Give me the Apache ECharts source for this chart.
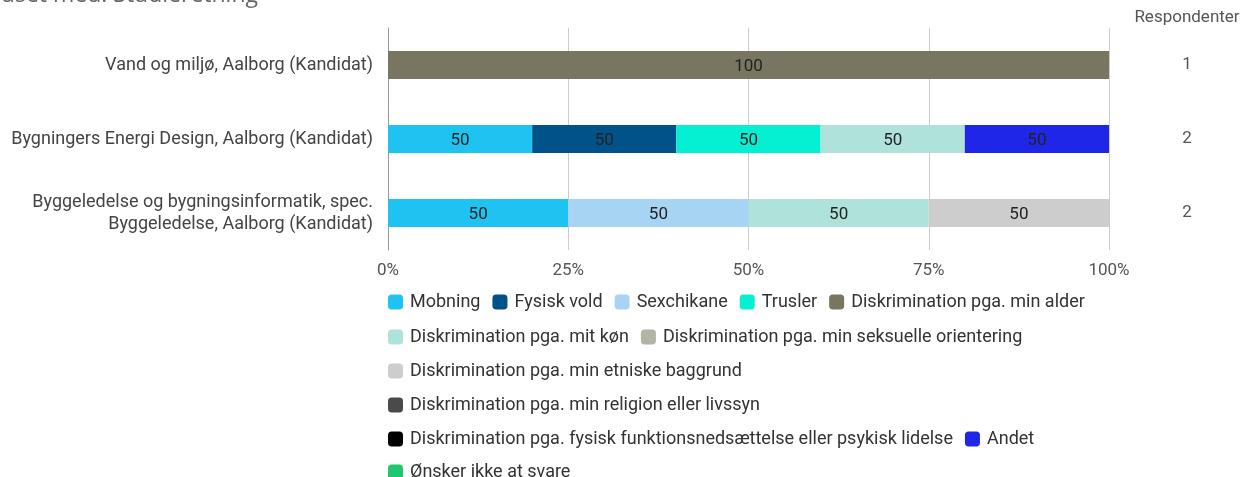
<!DOCTYPE html>
<html>
<head>
<meta charset="utf-8">
<script src="https://cdn.jsdelivr.net/npm/echarts@6/dist/echarts.min.js"></script>
<style>
  html, body { margin: 0; padding: 0; background: #fff; }
  #chart { width: 1244px; height: 477px; }
</style>
</head>
<body>
<div id="chart"></div>
<script>
// Study programmes (top to bottom)
const categories = [
  'Vand og miljø, Aalborg (Kandidat)',
  'Bygningers Energi Design, Aalborg (Kandidat)',
  'Byggeledelse og bygningsinformatik, spec.\nByggeledelse, Aalborg (Kandidat)'
];
const respondents = [1, 2, 2];
const xTicks = [0, 25, 50, 75, 100];

// Answer options, in legend order
const answers = [
  'Mobning', 'Fysisk vold', 'Sexchikane', 'Trusler',
  'Diskrimination pga. min alder', 'Diskrimination pga. mit køn',
  'Diskrimination pga. min seksuelle orientering',
  'Diskrimination pga. min etniske baggrund',
  'Diskrimination pga. min religion eller livssyn',
  'Diskrimination pga. fysisk funktionsnedsættelse eller psykisk lidelse',
  'Andet', 'Ønsker ikke at svare'
];
const colors = [
  '#1fc3f2', '#005288', '#a8d4f4', '#05f0d2',
  '#787560', '#b0e2dc', '#b3b4a4', '#cdcdcd',
  '#4a4a4a', '#000000', '#2026e8', '#1fc86e'
];

// Share of respondents (%) per answer, one array per programme row
const mobning      = [null, 50, 50];
const fysiskVold   = [null, 50, null];
const sexchikane   = [null, null, 50];
const trusler      = [null, 50, null];
const alder        = [100, null, null];
const koen         = [null, 50, 50];
const seksuelle    = [null, null, null];
const etniske      = [null, null, 50];
const religion     = [null, null, null];
const funktion     = [null, null, null];
const andet        = [null, 50, null];
const oenskerIkke  = [null, null, null];

const seriesValues = [mobning, fysiskVold, sexchikane, trusler, alder, koen,
  seksuelle, etniske, religion, funktion, andet, oenskerIkke];

// Legend rows
const legendRows = [
  [0, 1, 2, 3, 4],
  [5, 6],
  [7],
  [8],
  [9, 10],
  [11]
];

// Each row's bar spans the full width: segments are scaled to the row total
const rowTotals = categories.map((_, r) =>
  seriesValues.reduce((s, arr) => s + (arr[r] || 0), 0));

const FONT = 'Roboto, "Noto Sans", sans-serif';

const series = answers.map((name, i) => ({
  name,
  type: 'bar',
  stack: 'total',
  barWidth: 28,
  yAxisIndex: 0,
  itemStyle: { color: colors[i] },
  label: {
    show: true,
    position: 'inside',
    color: '#222',
    fontFamily: FONT,
    fontSize: 17,
    offset: [0, 2],
    formatter: p => p.data.raw
  },
  emphasis: { disabled: true },
  data: seriesValues[i].map((v, r) =>
    v == null ? { value: null, raw: null } : { value: v / rowTotals[r] * 100, raw: v })
}));

const legendTops = [293, 328, 362, 396, 430, 463];
const legends = legendRows.map((row, k) => ({
  left: 383,
  top: legendTops[k],
  orient: 'horizontal',
  icon: 'roundRect',
  itemWidth: 15,
  itemHeight: 15,
  itemGap: 12,
  padding: [0, 5],
  selectedMode: false,
  textStyle: { color: '#333', fontFamily: FONT, fontSize: 18, padding: [0, 0, 0, 2] },
  data: row.map(i => answers[i])
}));

// Axis label lines sit on the bottom of a slightly taller line box
const richLines = text => text.split('\n').map(s => '{t|' + s + '}').join('\n');

const chart = echarts.init(document.getElementById('chart'), null, { renderer: 'canvas' });
chart.setOption({
  animation: false,
  color: colors,
  grid: { left: 388, right: 135, top: 28, bottom: 227, containLabel: false },
  legend: legends,
  xAxis: {
    type: 'value',
    min: xTicks[0],
    max: xTicks[xTicks.length - 1],
    interval: 25,
    axisLine: { show: false },
    axisTick: { show: false },
    splitLine: { show: true, lineStyle: { color: '#cccccc', width: 1 } },
    axisLabel: {
      color: '#555',
      fontFamily: FONT,
      fontSize: 17,
      margin: 12,
      formatter: v => v + '%'
    }
  },
  yAxis: [
    {
      type: 'category',
      inverse: true,
      data: categories,
      axisLine: { show: true, lineStyle: { color: '#999', width: 1 } },
      axisTick: { show: false },
      axisLabel: {
        margin: 15,
        align: 'right',
        formatter: richLines,
        rich: {
          t: {
            color: '#444',
            fontFamily: FONT,
            fontSize: 18,
            lineHeight: 22,
            height: 22,
            verticalAlign: 'bottom',
            align: 'right'
          }
        }
      }
    },
    {
      type: 'category',
      inverse: true,
      position: 'right',
      data: respondents.map(String),
      axisLine: { show: false },
      axisTick: { show: false },
      axisLabel: {
        margin: 78,
        align: 'center',
        formatter: richLines,
        rich: {
          t: {
            color: '#555',
            fontFamily: FONT,
            fontSize: 17,
            lineHeight: 21,
            height: 21,
            verticalAlign: 'bottom'
          }
        }
      }
    }
  ],
  graphic: [
    {
      type: 'text',
      x: 1187,
      y: 18,
      style: {
        text: 'Respondenter',
        fill: '#555',
        font: '17px ' + FONT,
        align: 'center',
        verticalAlign: 'middle'
      }
    },
    {
      type: 'text',
      x: 258,
      y: 7,
      style: {
        text: 'Krydset med: Studieretning',
        fill: '#666',
        font: '23px "Open Sans", sans-serif',
        align: 'right',
        verticalAlign: 'bottom'
      }
    }
  ],
  series
});
</script>
</body>
</html>
